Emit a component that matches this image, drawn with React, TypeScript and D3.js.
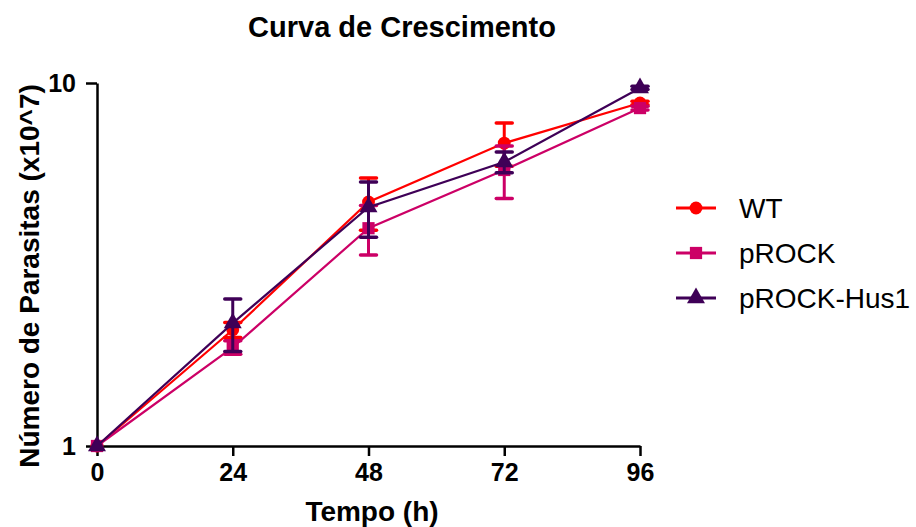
import React, { useEffect, useRef } from 'react';
import * as d3 from 'd3';

// time points (h)
const hours = [0, 24, 48, 72, 96];

// mean values (x10^7) per series
const wtValues = [1, 2.09, 4.7, 6.83, 8.81];
const pRockValues = [1, 1.87, 3.98, 5.76, 8.53];
const hus1Values = [1, 2.18, 4.55, 6.06, 9.69];

// error (SD) per series
const wtErrors = [0, 0.1, 0.77, 0.93, 0.1];
const pRockErrors = [0, 0.08, 0.62, 0.95, 0.1];
const hus1Errors = [0, 0.36, 0.79, 0.4, 0.1];

const seriesNames = ['WT', 'pROCK', 'pROCK-Hus1'];
const xTicks = [0, 24, 48, 72, 96];
const yTicks = [1, 10];

const App = () => {
  const ref = useRef<SVGSVGElement | null>(null);

  useEffect(() => {
    const svg = d3.select(ref.current);
    svg.selectAll('*').remove();

    const font = 'Liberation Sans, Arial, sans-serif';
    const x = d3.scaleLinear().domain([0, 96]).range([97, 640]);
    const y = d3.scaleLog().domain([1, 10]).range([446, 83]);

    const series = [
      { name: seriesNames[0], values: wtValues, errors: wtErrors, color: '#ff0000', shape: d3.symbolCircle, size: 130 },
      { name: seriesNames[1], values: pRockValues, errors: pRockErrors, color: '#cc0066', shape: d3.symbolSquare, size: 150 },
      { name: seriesNames[2], values: hus1Values, errors: hus1Errors, color: '#3f0057', shape: d3.symbolTriangle, size: 140 },
    ];

    // title
    svg.append('text')
      .attr('x', 402).attr('y', 37)
      .attr('text-anchor', 'middle')
      .style('font', `bold 29px ${font}`)
      .text('Curva de Crescimento');

    // axes
    const xAxis = svg.append('g')
      .attr('transform', `translate(0,${y(1)})`)
      .call(d3.axisBottom(x).tickValues(xTicks).tickSize(10).tickSizeOuter(0));
    xAxis.select('.domain').attr('stroke-width', 2.5);
    xAxis.selectAll('.tick line').attr('stroke-width', 2.5);
    xAxis.selectAll('.tick text')
      .attr('y', 17)
      .style('font', `bold 25px ${font}`)
      .attr('fill', '#000');

    const yAxis = svg.append('g')
      .attr('transform', `translate(${x(0)},0)`)
      .call(d3.axisLeft(y).tickValues(yTicks).tickFormat(d3.format('d')).tickSize(11).tickSizeOuter(0));
    yAxis.select('.domain').attr('stroke-width', 2.5);
    yAxis.selectAll('.tick line').attr('stroke-width', 2.5);
    yAxis.selectAll('.tick text')
      .attr('x', -21)
      .style('font', `bold 25px ${font}`)
      .attr('fill', '#000');

    // axis labels
    svg.append('text')
      .attr('x', 372).attr('y', 521)
      .attr('text-anchor', 'middle')
      .style('font', `bold 28px ${font}`)
      .text('Tempo (h)');

    svg.append('text')
      .attr('transform', 'translate(39,276) rotate(-90)')
      .attr('text-anchor', 'middle')
      .style('font', `bold 28px ${font}`)
      .text('Número de Parasitas (x10^7)');

    const line = d3.line<number>()
      .x((_, i) => x(hours[i]))
      .y(d => y(d));

    series.forEach(s => {
      const g = svg.append('g');
      // error bars
      s.values.forEach((v, i) => {
        if (!s.errors[i]) return;
        const top = y(v + s.errors[i]);
        const bottom = y(Math.max(1, v - s.errors[i]));
        const cx = x(hours[i]);
        g.append('line')
          .attr('x1', cx).attr('x2', cx).attr('y1', top).attr('y2', bottom)
          .attr('stroke', s.color).attr('stroke-width', 3);
        [top, bottom].forEach(yy => {
          g.append('line')
            .attr('x1', cx - 8).attr('x2', cx + 8).attr('y1', yy).attr('y2', yy)
            .attr('stroke', s.color).attr('stroke-width', 3.5).attr('stroke-linecap', 'round');
        });
      });
      g.append('path')
        .attr('d', line(s.values))
        .attr('fill', 'none')
        .attr('stroke', s.color)
        .attr('stroke-width', 2.2);
      g.selectAll('path.pt')
        .data(s.values)
        .join('path')
        .attr('class', 'pt')
        .attr('transform', (d, i) => `translate(${x(hours[i])},${y(d)})`)
        .attr('d', d3.symbol().type(s.shape).size(s.size)())
        .attr('fill', s.color);
    });

    // legend
    const legend = svg.append('g');
    series.forEach((s, i) => {
      const ly = 208 + i * 45;
      legend.append('line')
        .attr('x1', 676).attr('x2', 716).attr('y1', ly).attr('y2', ly)
        .attr('stroke', s.color).attr('stroke-width', 3);
      legend.append('path')
        .attr('transform', `translate(696,${ly})`)
        .attr('d', d3.symbol().type(s.shape).size(s.size)())
        .attr('fill', s.color);
      legend.append('text')
        .attr('x', 739).attr('y', ly)
        .attr('dy', '0.36em')
        .style('font', `28px ${font}`)
        .text(s.name);
    });
  }, []);

  return (
    <svg
      ref={ref}
      width={916}
      height={527}
      style={{ position: 'absolute', left: 0, top: 0, background: '#fff' }}
    />
  );
};

export default App;
